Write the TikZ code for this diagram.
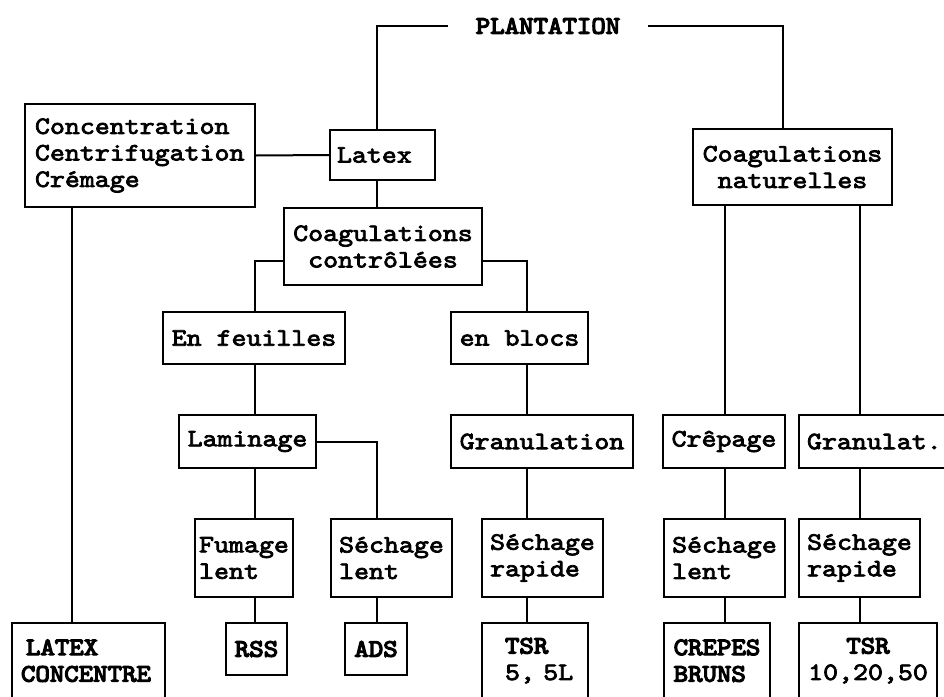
\documentclass[tikz,border=0pt]{standalone}
\usepackage{fontspec}
% slab typewriter face, widened and thickened
\newfontfamily\typewriter{lmmono10-regular}[Extension=.otf, FakeBold=3, FakeStretch=1.14]
% heavier cut for the capital labels
\newfontfamily\typeheavy{lmmono10-regular}[Extension=.otf, FakeBold=5, FakeStretch=1.1]
\begin{document}
\begin{tikzpicture}[x=1pt,y=-1pt,
  every node/.style={font=\typewriter\fontsize{25}{26.5}\selectfont},
  heavy/.style={font=\typeheavy\fontsize{25}{26.5}\selectfont},
  box/.style={draw, line width=2pt, inner sep=0pt, align=center},
  openbox/.style={inner sep=0pt, anchor=north, minimum height=75pt},
  link/.style={line width=2pt}]
\clip (0,0) rectangle (944,696);

% column positions of the vertical connectors
\coordinate (colA) at (72,0);
\coordinate (colB) at (255,0);
\coordinate (colC) at (377,0);
\coordinate (colD) at (527,0);
\coordinate (colE) at (725,0);
\coordinate (colF) at (860,0);
\coordinate (colG) at (783,0);

% top
\node[heavy, inner xsep=28pt, inner ysep=0pt] (plant) at (548,26) {PLANTATION};

% level 1
\node[box, minimum height=103pt, text width=210pt, inner xsep=10pt, align=left] (conc) at (140,155.5) {Concentration\\Centrifugation\\Crémage};
\node[box, minimum height=50pt, text width=91pt, inner xsep=7pt, align=left] (latex) at (382.5,155) {Latex};
\node[box, minimum width=199pt, minimum height=76pt] (coagn) at (792.5,167) {Coagulations\\naturelles};

% level 2
\node[box, minimum width=198pt, minimum height=77pt] (coagc) at (383,246.5) {Coagulations\\contrôlées};

% level 3
\node[box, minimum width=182pt, minimum height=52pt] (feuil) at (254,338) {En feuilles};
\node[box, minimum width=137pt, minimum height=52pt] (blocs) at (519.5,338) {en blocs};

% level 4
\node[box, minimum width=137pt, minimum height=53pt] (lamin) at (247.5,441.5) {Laminage};
\node[box, minimum width=182pt, minimum height=53pt] (granu) at (542,441.5) {Granulation};
\node[box, minimum width=122pt, minimum height=53pt] (crepa) at (724,441.5) {Crêpage};
\node[box, minimum height=53pt, text width=140pt, inner xsep=8pt, align=left] (granat) at (877,441.5) {Granulat.};

% level 5
\node[box, minimum width=98pt, minimum height=78pt, align=left] (fumag) at (244,558) {Fumage\\lent};
\node[box, minimum width=121pt, minimum height=78pt, align=left] (sechl1) at (391.5,558) {Séchage\\lent};
\node[box, minimum width=121pt, minimum height=78pt, align=left] (sechr1) at (542.5,558) {Séchage\\rapide};
\node[box, minimum width=121pt, minimum height=78pt, align=left] (sechl2) at (724.5,558) {Séchage\\lent};
\node[box, minimum width=121pt, minimum height=78pt, align=left] (sechr2) at (859.5,558) {Séchage\\rapide};

% products
\node[box, heavy, minimum width=61pt, minimum height=52pt] (rss) at (256.5,649) {RSS};
\node[box, heavy, minimum width=62pt, minimum height=52pt] (ads) at (376,649) {ADS};
\node[openbox, heavy, text width=135pt, inner xsep=9pt, align=left] (latexc) at (88.5,623) {\hspace*{5pt}LATEX\\CONCENTRE};
\node[openbox, text width=60pt, inner xsep=23pt, align=left] (tsr1) at (535,623) {{\typeheavy TSR}\\5,~5L};
\node[openbox, heavy, minimum width=106pt, align=left] (crepes) at (717,623) {CREPES\\BRUNS};
\node[openbox, minimum width=138pt, align=center] (tsr2) at (868,623) {{\typeheavy TSR}\\10,20,50};
\foreach \n in {latexc,tsr1,crepes,tsr2}
  \draw[link] ([yshift=-60pt]\n.south west) |- (\n.north east) -- ([yshift=-60pt]\n.south east);

% connectors
\draw[link] (plant.west) -| (latex.north -| colC);
\draw[link] (plant.east) -| (coagn.north -| colG);
\draw[link] (conc.east) -- (latex.west);
\draw[link] (latex.south -| colC) -- (coagc.north -| colC);
\draw[link] (conc.south -| colA) -- (latexc.north -| colA);
\draw[link] ([yshift=-14.5pt]coagc.west) -| (feuil.north -| colB);
\draw[link] ([yshift=-14.5pt]coagc.east) -| (blocs.north -| colD);
\draw[link] (feuil.south -| colB) -- (lamin.north -| colB);
\draw[link] (lamin.east) -| (sechl1.north -| colC);
\draw[link] (lamin.south -| colB) -- (fumag.north -| colB);
\draw[link] (fumag.south -| colB) -- (rss.north -| colB);
\draw[link] (sechl1.south -| colC) -- (ads.north -| colC);
\draw[link] (blocs.south -| colD) -- (granu.north -| colD);
\draw[link] (granu.south -| colD) -- (sechr1.north -| colD);
\draw[link] (sechr1.south -| colD) -- (tsr1.north -| colD);
\draw[link] (coagn.south -| colE) -- (crepa.north -| colE);
\draw[link] (crepa.south -| colE) -- (sechl2.north -| colE);
\draw[link] (sechl2.south -| colE) -- (crepes.north -| colE);
\draw[link] (coagn.south -| colF) -- (granat.north -| colF);
\draw[link] (granat.south -| colF) -- (sechr2.north -| colF);
\draw[link] (sechr2.south -| colF) -- (tsr2.north -| colF);
\end{tikzpicture}
\end{document}
